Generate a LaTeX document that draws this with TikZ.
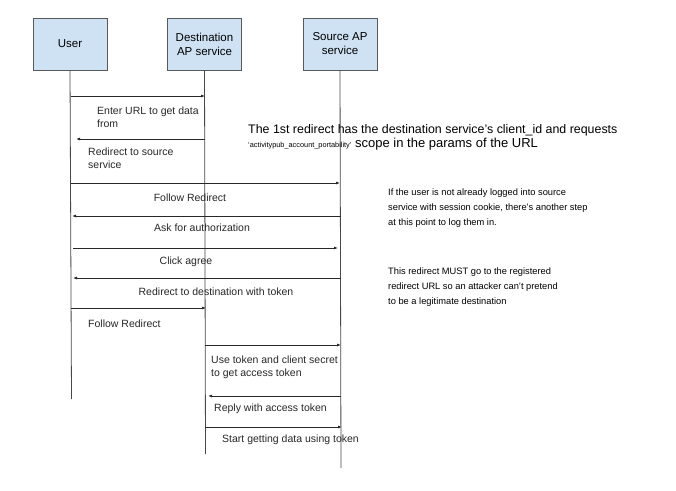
\documentclass[tikz,border=0pt]{standalone}
\usepackage{fontspec}
\setmainfont{Liberation Sans}
\usetikzlibrary{arrows.meta}
\definecolor{boxblue}{RGB}{207,226,243}
\definecolor{boxline}{RGB}{89,89,89}
\definecolor{ink}{RGB}{40,40,40}
\begin{document}
\begin{tikzpicture}[x=1pt,y=-1pt,
  actor/.style={draw=boxline,fill=boxblue,line width=0.7pt,minimum width=74pt,minimum height=52pt,inner sep=1pt,align=center,font=\fontsize{11.5}{14}\selectfont},
  lifeline/.style={draw=ink!85,line width=0.8pt},
  msg/.style={draw=ink,line width=0.8pt,-{Latex[length=4pt,width=3pt]}},
  lbl/.style={inner sep=0pt,font=\fontsize{10.5}{12.5}\selectfont,text=ink},
  note/.style={inner sep=0pt,align=left,font=\fontsize{9.3}{15.3}\selectfont,text=black}]
\useasboundingbox (0,0) rectangle (676,490);
\fill[white] (0,0) rectangle (676,490);
% actors
\node[actor] (user) at (70,44) {User};
\node[actor] (dest) at (204.5,44) {Destination\\AP service};
\node[actor] (src) at (340,44) {Source AP\\service};
% lifeline ends
\coordinate (userEnd) at (71.5,399);
\coordinate (destEnd) at (205.5,454);
\coordinate (srcEnd) at (341,468);
\draw[lifeline] (user.south) -- (userEnd);
\draw[lifeline] (dest.south) -- (destEnd);
\draw[lifeline] (src.south) -- (srcEnd);
% message end points
\coordinate (u1) at (71,96);   \coordinate (d1) at (205,96);
\coordinate (d2) at (205,139); \coordinate (u2) at (76,139);
\coordinate (u3) at (71,183);  \coordinate (s3) at (340,183);
\coordinate (s4) at (341,216); \coordinate (u4) at (72,216);
\coordinate (u5) at (73,248);  \coordinate (s5) at (338,248);
\coordinate (s6) at (341,278); \coordinate (u6) at (73,278);
\coordinate (u7) at (71,308);  \coordinate (d7) at (206,308);
\coordinate (d8) at (205,345); \coordinate (s8) at (341,345);
\coordinate (s9) at (341,396); \coordinate (d9) at (208,396);
\coordinate (d10) at (205,427); \coordinate (s10) at (342,427);
\draw[msg] (u1) -- (d1);
\draw[msg] (d2) -- (u2);
\draw[msg] (u3) -- (s3);
\draw[msg] (s4) -- (u4);
\draw[msg] (u5) -- (s5);
\draw[msg] (s6) -- (u6);
\draw[msg] (u7) -- (d7);
\draw[msg] (d8) -- (s8);
\draw[msg] (s9) -- (d9);
\draw[msg] (d10) -- (s10);
% message labels
\node[lbl,anchor=north west,align=left] (l1) at (97,107) {Enter URL to get data\\from};
\node[lbl,anchor=north west,align=left] (l2) at (88,148) {Redirect to source\\service};
\node[lbl,anchor=base] (l3) at (190,201.8) {Follow Redirect};
\node[lbl,anchor=base] (l4) at (202,231.8) {Ask for authorization};
\node[lbl,anchor=base] (l5) at (186,264.8) {Click agree};
\node[lbl,anchor=base] (l6) at (216,295.8) {Redirect to destination with token};
\node[lbl,anchor=base west] (l7) at (88,327.8) {Follow Redirect};
\node[lbl,anchor=north west,align=left] (l8) at (211,356) {Use token and client secret\\to get access token};
\node[lbl,anchor=base west] (l9) at (214,411.8) {Reply with access token};
\node[lbl,anchor=base west] (l10) at (222,442.8) {Start getting data using token};
% notes
\node[inner sep=0pt,anchor=base west,font=\fontsize{12.4}{14}\selectfont] (n1a) at (248,133.5) {The 1st redirect has the destination service’s client\_id and requests};
\node[inner sep=0pt,anchor=base west,font=\fontsize{13}{14}\selectfont] (n1b) at (248,147.5) {{\fontsize{7.35}{8}\selectfont ‘activitypub\_account\_portability’} scope in the params of the URL};
\node[note,anchor=north west] (n2) at (388,188.3) {If the user is not already logged into source\\service with session cookie, there’s another step\\at this point to log them in.};
\node[note,anchor=north west] (n3) at (388,267.3) {This redirect MUST go to the registered\\redirect URL so an attacker can’t pretend\\to be a legitimate destination};
\end{tikzpicture}
\end{document}
